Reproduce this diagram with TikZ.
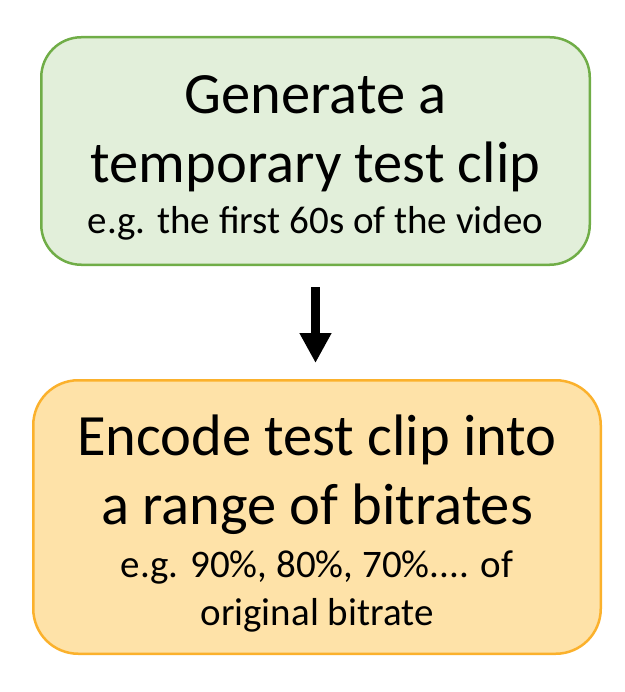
\documentclass[tikz,border=0pt]{standalone}
\usepackage{fontspec}
\setmainfont{Carlito}
\usetikzlibrary{arrows.meta,positioning}

\definecolor{genfill}{HTML}{E2EFDA}
\definecolor{gendraw}{HTML}{70AD47}
\definecolor{encfill}{HTML}{FEE2A8}
\definecolor{encdraw}{HTML}{FBB12C}

\newcommand{\bigtxt}{\fontsize{58.5}{69}\selectfont}
\newcommand{\smalltxt}{\fontsize{39}{47}\selectfont}

\begin{document}
\begin{tikzpicture}[
  x=1pt, y=-1pt,
  box/.style={
    draw,
    inner sep=0pt,
    line width=2.5pt,
  },
  txt/.style={
    align=center,
    inner sep=0pt,
    font=\bigtxt,
  },
  arr/.style={
    -{Triangle[length=30pt,width=30pt]},
    line width=9pt,
    shorten <=21pt,
    shorten >=16pt,
  },
]
  \useasboundingbox (0,0) rectangle (624,692);
  % Top: test clip
  \node[box, fill=genfill, draw=gendraw, rounded corners=40pt,
        minimum width=548.5pt, minimum height=227.5pt] (gen) at (315.5,151) {};
  \node[txt] (gentxt) at ([yshift=-7pt]gen.center)
    {Generate a\\temporary test clip\\[-18pt]{\smalltxt e.g. the first 60s of the video}};
  % Bottom: encodes
  \node[box, fill=encfill, draw=encdraw, rounded corners=45pt,
        minimum width=567.5pt, minimum height=273.5pt] (enc) at (317,517) {};
  \node[txt] (enctxt) at ([yshift=-7pt]enc.center)
    {Encode test clip into\\a range of bitrates\\[-16pt]{\smalltxt e.g. 90\%, 80\%, 70\%.... of}\\[-21pt]{\smalltxt original bitrate}};
  \draw[arr] (gen.south) -- (gen.south |- enc.north);
\end{tikzpicture}
\end{document}
